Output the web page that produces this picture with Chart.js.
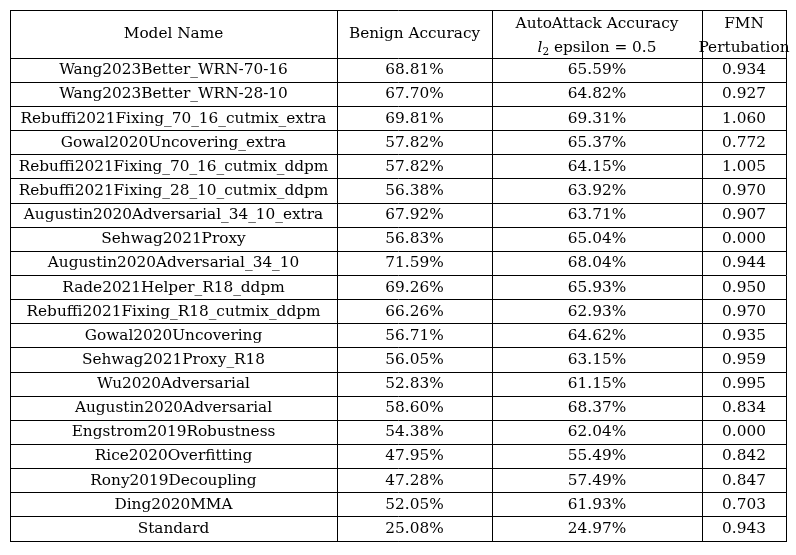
<!DOCTYPE html>
<html>
<head>
<meta charset="utf-8">
<script src="https://cdn.jsdelivr.net/npm/chart.js@4.4.0/dist/chart.umd.min.js"></script>
<style>
  body { margin: 0; background: #fff; }
  #wrap { width: 796px; height: 555px; }
</style>
</head>
<body>
<div id="wrap"><canvas id="canvas"></canvas></div>
<script>
const modelNames = [
  'Wang2023Better_WRN-70-16', 'Wang2023Better_WRN-28-10', 'Rebuffi2021Fixing_70_16_cutmix_extra',
  'Gowal2020Uncovering_extra', 'Rebuffi2021Fixing_70_16_cutmix_ddpm', 'Rebuffi2021Fixing_28_10_cutmix_ddpm',
  'Augustin2020Adversarial_34_10_extra', 'Sehwag2021Proxy', 'Augustin2020Adversarial_34_10',
  'Rade2021Helper_R18_ddpm', 'Rebuffi2021Fixing_R18_cutmix_ddpm', 'Gowal2020Uncovering',
  'Sehwag2021Proxy_R18', 'Wu2020Adversarial', 'Augustin2020Adversarial', 'Engstrom2019Robustness',
  'Rice2020Overfitting', 'Rony2019Decoupling', 'Ding2020MMA', 'Standard'
];
const benignAcc = [68.81, 67.70, 69.81, 57.82, 57.82, 56.38, 67.92, 56.83, 71.59, 69.26,
  66.26, 56.71, 56.05, 52.83, 58.60, 54.38, 47.95, 47.28, 52.05, 25.08];
const autoAttackAcc = [65.59, 64.82, 69.31, 65.37, 64.15, 63.92, 63.71, 65.04, 68.04, 65.93,
  62.93, 64.62, 63.15, 61.15, 68.37, 62.04, 55.49, 57.49, 61.93, 24.97];
const fmnPert = [0.934, 0.927, 1.060, 0.772, 1.005, 0.970, 0.907, 0.000, 0.944, 0.950,
  0.970, 0.935, 0.959, 0.995, 0.834, 0.000, 0.842, 0.847, 0.703, 0.943];

// layout: column edges (x units) and header height (row units)
const colEdges = [0, 327, 482, 692, 776];
const headerRows = 2;
const FONT = '"DejaVu Serif", "Liberation Serif", serif';
const SIZE = 15.3;

const tablePlugin = {
  id: 'tableText',
  afterDraw(chart) {
    const { ctx, scales: { x, y } } = chart;
    const cx = i => (x.getPixelForValue(colEdges[i]) + x.getPixelForValue(colEdges[i + 1])) / 2;
    const f = (px, style) => (style ? style + ' ' : '') + px + 'px ' + FONT;
    ctx.save();
    ctx.fillStyle = '#000';
    ctx.textAlign = 'center';
    ctx.textBaseline = 'middle';
    ctx.font = f(SIZE);
    const hMid = y.getPixelForValue(headerRows / 2);
    const hTop = y.getPixelForValue(headerRows / 4) + 2;
    const hBot = y.getPixelForValue(headerRows * 3 / 4) + 2;
    ctx.fillText('Model Name', cx(0), hMid);
    ctx.fillText('Benign Accuracy', cx(1), hMid);
    ctx.fillText('AutoAttack Accuracy', cx(2), hTop);
    ctx.fillText('FMN', cx(3), hTop);
    ctx.fillText('Pertubation', cx(3), hBot);
    // l_2 epsilon = 0.5
    const rest = ' epsilon = 0.5';
    ctx.font = f(SIZE, 'italic');
    const wl = ctx.measureText('l').width;
    ctx.font = f(10.5);
    const w2 = ctx.measureText('2').width;
    ctx.font = f(SIZE);
    const wr = ctx.measureText(rest).width;
    const sx = cx(2) - (wl + w2 + wr) / 2;
    ctx.textAlign = 'left';
    ctx.font = f(SIZE, 'italic');
    ctx.fillText('l', sx, hBot);
    ctx.font = f(10.5);
    ctx.fillText('2', sx + wl, hBot + 4);
    ctx.font = f(SIZE);
    ctx.fillText(rest, sx + wl + w2, hBot);
    ctx.textAlign = 'center';
    modelNames.forEach((name, i) => {
      const py = y.getPixelForValue(headerRows + i + 0.5);
      ctx.fillText(name, cx(0), py);
      ctx.fillText(benignAcc[i].toFixed(2) + '%', cx(1), py);
      ctx.fillText(autoAttackAcc[i].toFixed(2) + '%', cx(2), py);
      ctx.fillText(fmnPert[i].toFixed(3), cx(3), py);
    });
    ctx.restore();
  }
};

const rowTicks = [0];
for (let r = headerRows; r <= headerRows + modelNames.length; r++) rowTicks.push(r);

new Chart(document.getElementById('canvas'), {
  type: 'scatter',
  data: { datasets: [{ data: [], pointRadius: 0 }] },
  options: {
    responsive: true,
    maintainAspectRatio: false,
    animation: false,
    layout: { padding: { left: 10, right: 10, top: 10, bottom: 14 } },
    plugins: { legend: { display: false }, tooltip: { enabled: false } },
    scales: {
      x: {
        type: 'linear', min: colEdges[0], max: colEdges[colEdges.length - 1],
        afterBuildTicks: s => { s.ticks = colEdges.map(v => ({ value: v })); },
        ticks: { display: false },
        grid: { color: '#000', lineWidth: 1, drawTicks: false },
        border: { color: '#000' }
      },
      y: {
        type: 'linear', reverse: true, min: 0, max: headerRows + modelNames.length,
        afterBuildTicks: s => { s.ticks = rowTicks.map(v => ({ value: v })); },
        ticks: { display: false },
        grid: { color: '#000', lineWidth: 1, drawTicks: false },
        border: { color: '#000' }
      }
    }
  },
  plugins: [tablePlugin]
});
</script>
</body>
</html>
